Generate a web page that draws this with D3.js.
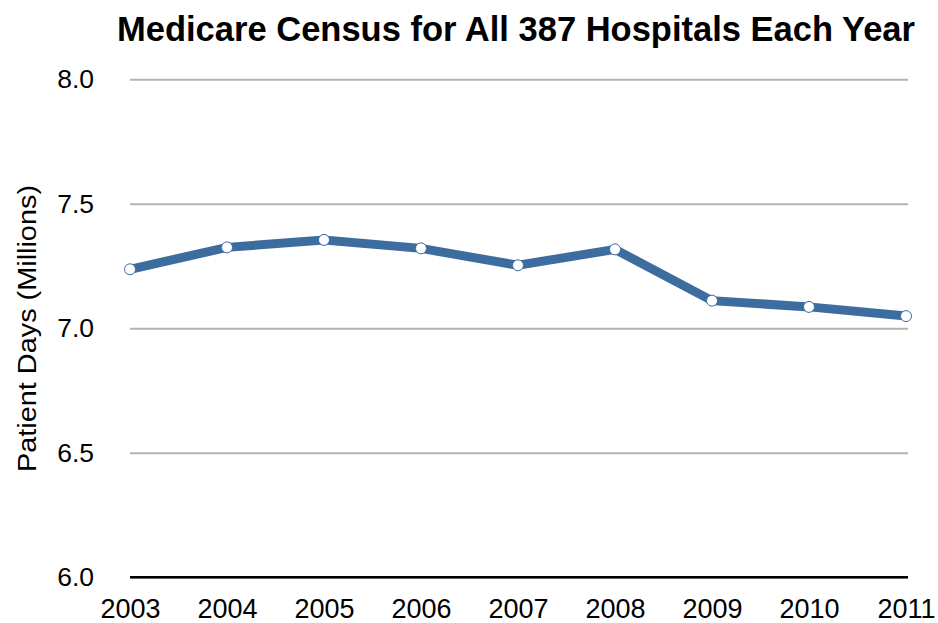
<!DOCTYPE html>
<html>
<head>
<meta charset="utf-8">
<script src="https://cdn.jsdelivr.net/npm/d3@7"></script>
<style>
  html, body { margin: 0; padding: 0; background: #fff; }
  svg { display: block; font-family: "Liberation Sans", Arial, Helvetica, sans-serif; }
</style>
</head>
<body>
<svg id="chart" width="938" height="623"></svg>
<script>
// Medicare patient days (millions) per year, all 387 hospitals
const years = [2003, 2004, 2005, 2006, 2007, 2008, 2009, 2010, 2011];
const patientDays = [7.237, 7.325, 7.355, 7.321, 7.253, 7.317, 7.111, 7.086, 7.049];
const yTicks = [6.0, 6.5, 7.0, 7.5, 8.0];

const svg = d3.select("#chart");
const plotLeft = 130, plotRight = 906, plotTop = 79.3, plotBottom = 577.3;

const x = d3.scalePoint().domain(years).range([plotLeft, plotRight]);
const y = d3.scaleLinear().domain([6, 8]).range([plotBottom, plotTop]);

// Title
svg.append("text")
  .attr("x", 117).attr("y", 40.5)
  .attr("font-size", 35).attr("font-weight", "bold")
  .attr("textLength", 798).attr("lengthAdjust", "spacingAndGlyphs")
  .attr("fill", "#000")
  .text("Medicare Census for All 387 Hospitals Each Year");

// Horizontal gridlines + y tick labels
const yAxis = d3.axisLeft(y).tickValues(yTicks).tickFormat(d3.format(".1f"))
  .tickSize(-(plotRight - plotLeft + 2)).tickPadding(36);
const gy = svg.append("g").attr("transform", `translate(${plotLeft},0)`).call(yAxis);
gy.select(".domain").remove();
gy.selectAll(".tick line").attr("stroke", "#b3b3b3").attr("stroke-width", 2);
gy.selectAll(".tick text").attr("font-size", 26.5).attr("fill", "#000")
  .attr("font-family", "Liberation Sans, Arial, sans-serif");

// Baseline
svg.append("line")
  .attr("x1", plotLeft).attr("x2", plotRight + 2)
  .attr("y1", y(6)).attr("y2", y(6))
  .attr("stroke", "#000").attr("stroke-width", 2.5);

// X axis labels
const xAxis = d3.axisBottom(x).tickSize(0).tickPadding(22);
const gx = svg.append("g").attr("transform", `translate(0,${plotBottom})`).call(xAxis);
gx.select(".domain").remove();
gx.selectAll(".tick text").attr("font-size", 27).attr("fill", "#000")
  .attr("font-family", "Liberation Sans, Arial, sans-serif");

// Y axis title
svg.append("text")
  .attr("transform", `translate(36,328.5) rotate(-90)`)
  .attr("text-anchor", "middle")
  .attr("font-size", 26)
  .attr("textLength", 287).attr("lengthAdjust", "spacingAndGlyphs")
  .attr("fill", "#000")
  .text("Patient Days (Millions)");

const data = years.map((yr, i) => ({ yr, v: patientDays[i] }));

// Series line
svg.append("path")
  .datum(data)
  .attr("fill", "none")
  .attr("stroke", "#3d6c9f")
  .attr("stroke-width", 9)
  .attr("stroke-linejoin", "miter")
  .attr("d", d3.line().x(d => x(d.yr)).y(d => y(d.v)));

// Point markers
svg.append("g").selectAll("circle")
  .data(data).join("circle")
  .attr("cx", d => x(d.yr)).attr("cy", d => y(d.v))
  .attr("r", 5.5)
  .attr("fill", "#fff")
  .attr("stroke", "#3d6c9f").attr("stroke-width", 1);
</script>
</body>
</html>
